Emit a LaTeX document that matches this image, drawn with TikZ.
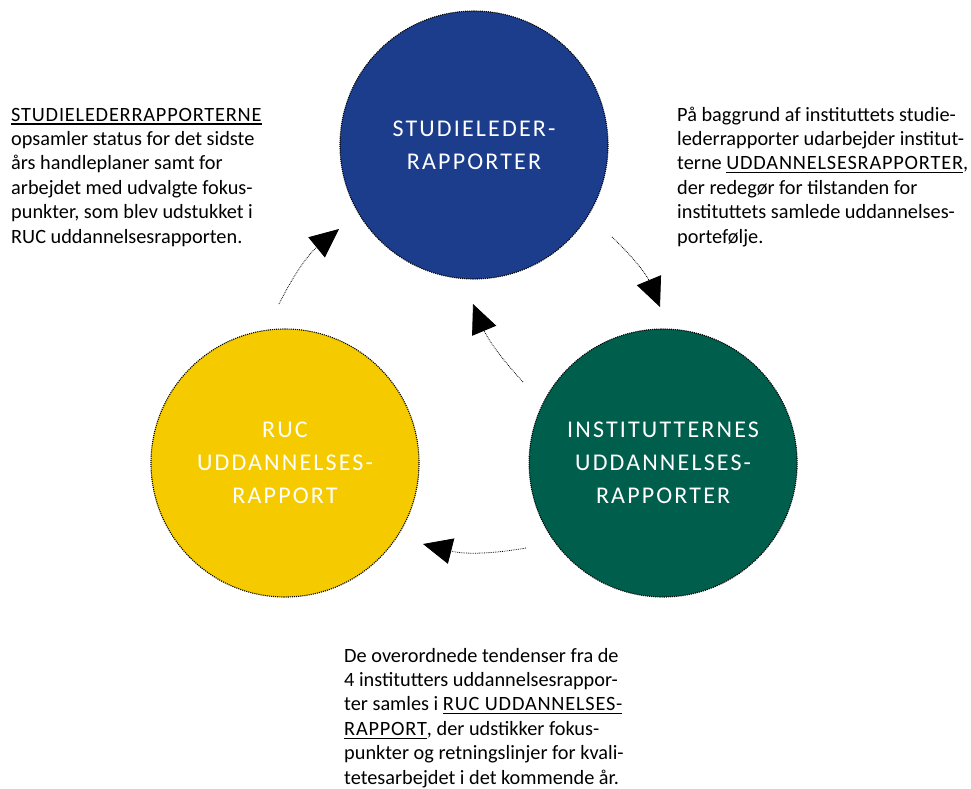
\documentclass[tikz,border=0pt]{standalone}
\usepackage{fontspec}
\setmainfont{Carlito}
\newfontfamily\circfont[LetterSpace=9]{Carlito}
\newfontfamily\capsfont[LetterSpace=4]{Carlito}
\usetikzlibrary{arrows.meta,positioning}
\definecolor{rucblue}{HTML}{1C3D8B}
\definecolor{rucgreen}{HTML}{005E4D}
\definecolor{rucyellow}{HTML}{F5CB00}
\newcommand{\undl}[1]{\setbox0\hbox{\capsfont #1}\rlap{\rule[-3.6pt]{\wd0}{1.2pt}}\box0}

\begin{document}
\begin{tikzpicture}[
x=1pt,y=1pt,
node distance=109pt,
disc/.style={
  circle,
  draw=black,
  densely dotted,
  line width=1.1pt,
  minimum size=268pt,
  inner sep=0pt,
  align=center,
  text=white,
  font=\circfont\fontsize{24}{33}\selectfont
},
note/.style={
  align=left,
  inner sep=0pt,
  anchor=base west,
  font=\fontsize{20.3}{24.4}\selectfont
},
arrow/.style={-{Triangle[length=29pt,width=26pt]},densely dotted,line width=0.8pt}
]
\useasboundingbox (0,0) rectangle (971,-789);
\node[disc,fill=rucblue] (studie) at (474,-145) {STUDIELEDER-\\RAPPORTER};
\node[disc,fill=rucyellow] (ruc) at (285,-463) {RUC\\UDDANNELSES-\\RAPPORT};
\node[disc,fill=rucgreen,right=of ruc] (inst) {INSTITUTTERNES\\UDDANNELSES-\\RAPPORTER};

% notes are anchored at the baseline of their last line
\node[note] (leftnote) at (11,-243) {\undl{STUDIELEDERRAPPORTERNE}\\
opsamler status for det sidste\\
års handleplaner samt for\\
arbejdet med udvalgte fokus-\\
punkter, som blev udstukket i\\
RUC uddannelsesrapporten.};
\node[note] (rightnote) at (677,-243) {På baggrund af instituttets studie-\\
lederrapporter udarbejder institut-\\
terne \undl{UDDANNELSESRAPPORTER},\\
der redegør for tilstanden for\\
instituttets samlede uddannelses-\\
portefølje.};
\node[note] (bottomnote) at (344,-784) {De overordnede tendenser fra de\\
4 institutters uddannelsesrappor-\\
ter samles i \undl{RUC UDDANNELSES-}\\
\undl{RAPPORT}, der udstikker fokus-\\
punkter og retningslinjer for kvali-\\
tetesarbejdet i det kommende år.};

% free ends of the cycle arrows
\coordinate (rucout) at (279,-304);
\coordinate (studiein) at (339,-229);
\coordinate (studieout) at (612,-237);
\coordinate (instin) at (660,-307);
\coordinate (instup) at (523,-382);
\coordinate (studiein2) at (473,-304);
\coordinate (instout) at (526,-548);
\coordinate (rucin) at (423,-544);

\draw[arrow] (rucout) to[bend left=12] (studiein);
\draw[arrow] (studieout) to[bend left=12] (instin);
\draw[arrow] (instup) to[bend left=10] (studiein2);
\draw[arrow] (instout) to[bend left=12] (rucin);
\end{tikzpicture}
\end{document}
